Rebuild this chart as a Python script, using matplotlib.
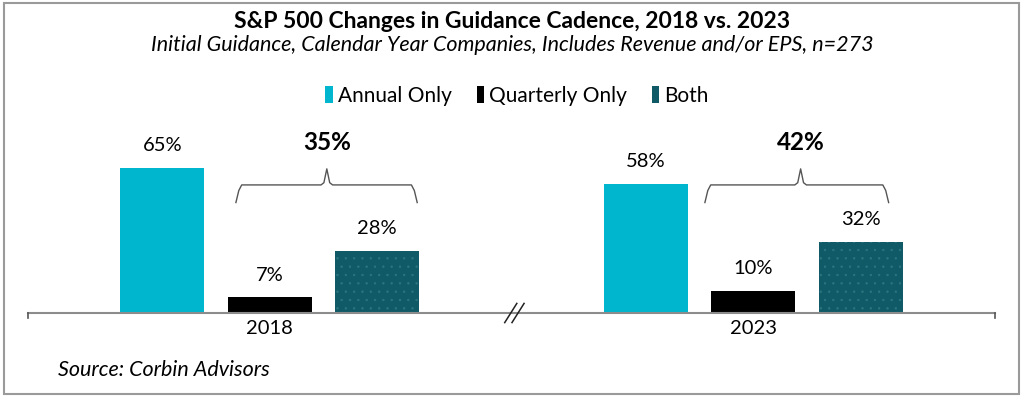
import matplotlib.pyplot as plt
from matplotlib.patches import Rectangle
import numpy as np

years = ["2018", "2023"]
series = ["Annual Only", "Quarterly Only", "Both"]
annual = [65, 58]
quarterly = [7, 10]
both = [28, 32]
combined = ["35%", "42%"]

colors = ["#00B5CE", "#000000", "#0F5A66"]

plt.rcParams['font.family'] = ['Lato', 'DejaVu Sans']
plt.rcParams['hatch.linewidth'] = 0.5

fig = plt.figure(figsize=(10.24, 4.0), dpi=100)
ax = fig.add_axes([28/1024, 87/400, 967/1024, 193/400])

x = np.arange(len(years))
offs = [-0.222, 0.0, 0.222]
w = 0.174
vals = [annual, quarterly, both]

for i, (name, v) in enumerate(zip(series, vals)):
    bars = ax.bar(x + offs[i], v, w, color=colors[i], label=name, zorder=2)
    if name == "Both":
        # faint dotted texture on the teal bars
        ax.bar(x + offs[i], v, w, fill=False, hatch='..', edgecolor="#2C7580",
               linewidth=0, zorder=3)
    for b, val in zip(bars, v):
        ax.annotate(f"{val}%", (b.get_x() + b.get_width()/2, val),
                    xytext=(0, 16), textcoords='offset points',
                    ha='center', va='center', fontsize=14.5)

# curly brackets over quarterly + both
br_left = [-0.07, 0.90]
br_right = [0.305, 1.28]
tips = [0.118, 1.098]
y_end, y_mid, y_tip = 49.5, 57.4, 64.6
r = 2.5
for l, rr, t, lab in zip(br_left, br_right, tips, combined):
    xs = [l, l + 0.006, l + 0.012, t - 0.012, t - 0.006, t, t + 0.006, t + 0.012, rr - 0.012, rr - 0.006, rr]
    ys = [y_end, y_mid - r, y_mid, y_mid, y_mid + r * 0.4, y_tip, y_mid + r * 0.4, y_mid, y_mid, y_mid - r, y_end]
    ax.plot(xs, ys, color="#555555", lw=1.0, zorder=2)
    ax.text(t, 76.2, lab, ha='center', va='center', fontsize=17.5, fontweight='bold')

ax.set_xlim(-0.5, 1.5)
ax.set_ylim(0, 86.5)
ax.set_xticks(x)
ax.set_xticklabels(years, fontsize=14.5)
ax.tick_params(axis='x', length=0, pad=5)
ax.set_yticks([])
for s in ['top', 'right', 'left']:
    ax.spines[s].set_visible(False)
ax.spines['bottom'].set_color("#8C8C8C")
ax.spines['bottom'].set_linewidth(1.5)

# end ticks on the axis line
for xe in [-0.5, 1.5]:
    ax.plot([xe, xe], [0, -2.2], color="#555555", lw=1.2, clip_on=False, zorder=4)

# axis break marks
for dx in [0.0, 0.015]:
    ax.plot([0.486 + dx, 0.511 + dx], [-4.3, 4.3], color="#222222", lw=1.1,
            clip_on=False, zorder=5)

leg = fig.legend(loc='center', bbox_to_anchor=(0.505, 1 - 96/400), ncol=3, frameon=False,
                 fontsize=15, handlelength=0.35, handleheight=0.85, handletextpad=0.25,
                 columnspacing=1.2)

fig.text(0.5, 1 - 21/400, "S&P 500 Changes in Guidance Cadence, 2018 vs. 2023",
         ha='center', va='center', fontsize=16.5, fontweight='bold')
fig.text(0.5, 1 - 45/400, "Initial Guidance, Calendar Year Companies, Includes Revenue and/or EPS, n=273",
         ha='center', va='center', fontsize=15.5, style='italic')
fig.text(58/1024, 1 - 370/400, "Source: Corbin Advisors", ha='left', va='center',
         fontsize=15.5, style='italic')

# outer frame
fig.patches.append(Rectangle((4/1024, 6/400), 1015/1024, 391/400, transform=fig.transFigure,
                             fill=False, edgecolor="#9A9A9A", lw=1.5))

fig.savefig("out.png", dpi=100)
